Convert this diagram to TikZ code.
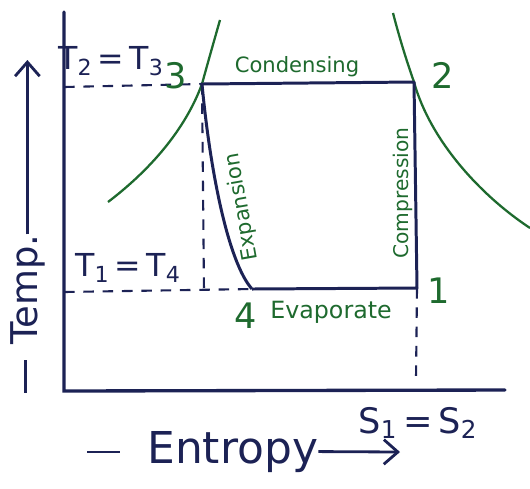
\documentclass[tikz,border=0pt]{standalone}
\usepackage{fontspec}
\setmainfont{DejaVu Sans}
\usetikzlibrary{arrows.meta}

\definecolor{ink}{HTML}{1C2255}
\definecolor{leaf}{HTML}{1E6A2E}

\tikzset{
    axis/.style={ink, line width=1.9pt, line cap=round},
    cycleline/.style={ink, line width=1.7pt, line join=round},
    satline/.style={leaf, line width=1.3pt},
    guide/.style={ink, line width=1.2pt, dash pattern=on 6pt off 5pt},
    pointer/.style={ink, line width=1.6pt, -{Straight Barb[length=8pt,width=14pt]}},
    inklabel/.style={ink, inner sep=0pt, font=\fontsize{18}{20}\selectfont},
    leaflabel/.style={leaf, inner sep=0pt, font=\fontsize{12}{14}\selectfont},
    statenum/.style={leaf, inner sep=0pt, font=\fontsize{20}{22}\selectfont},
    axislabel/.style={ink, inner sep=0pt, font=\fontsize{25}{27}\selectfont}
}

\begin{document}
\begin{tikzpicture}[x=0.02cm, y=-0.02cm]

\useasboundingbox (0,0) rectangle (530,488);

% Axes
\coordinate (top) at (64,12);
\coordinate (origin) at (64,391);
\coordinate (xend) at (505,390);
\draw[axis] (top) -- (origin) -- (xend);

% Points of the cycle
\coordinate (p1) at (417,288);
\coordinate (p2) at (414,82);
\coordinate (p3) at (202,84);
\coordinate (p4) at (252,289);

% Saturation curves
\draw[satline] (108,202) .. controls (150,170) and (185,130) .. (p3)
    .. controls (208,62) and (214,41) .. (220,20);
\draw[satline] (393,13) .. controls (400,40) and (407,62) .. (p2)
    .. controls (430,140) and (480,195) .. (530,228);

% Cycle
\draw[cycleline] (p4) -- (p1) -- (p2) -- (p3)
    .. controls (210,170) and (228,262) .. (p4);

% Guide lines
\coordinate (t23) at (64,87);
\coordinate (t14) at (64,292);
\coordinate (s3) at (204,292);
\coordinate (s12) at (416,378);
\draw[guide] (t23) -- (p3);
\draw[guide] (p3) -- (s3);
\draw[guide] (t14) -- (p4);
\draw[guide] (p1) -- (s12);

% Numbers of the states
\foreach \n/\x/\y in {1/439/291, 2/443/75, 3/176/76, 4/246/316}
{
    \node[statenum] (n\n) at (\x,\y) {\n};
}

% Processes
\node[leaflabel] (condensing) at (297,67) {Condensing};
\node[leaflabel, font=\fontsize{13.5}{15}\selectfont] (evaporate) at (331,312) {Evaporate};
\node[leaflabel, font=\fontsize{11.5}{13}\selectfont, rotate=90] (compression) at (403,193) {Compression};
\node[leaflabel, rotate=100] (expansion) at (242,207) {Expansion};

% Equal values
\node[inklabel] (t23lbl) at (111,61) {T\textsubscript{2}\,=\,T\textsubscript{3}};
\node[inklabel] (t14lbl) at (128,268) {T\textsubscript{1}\,=\,T\textsubscript{4}};
\node[inklabel, font=\fontsize{20}{22}\selectfont] (s12lbl) at (418,423) {S\textsubscript{1}\,=\,S\textsubscript{2}};

% Axis names
\node[axislabel, anchor=base west] (entropy) at (87,463)
{\rule[0.22em]{0.66cm}{1.6pt}\hspace{0.54cm}Entropy};
\coordinate (sarrow) at (400,452);
\draw[pointer] (entropy.east) -- (sarrow);

\node[axislabel, font=\fontsize{21}{23}\selectfont, rotate=90, anchor=base west] (temp) at (37,393)
{\rule[0.28em]{0.66cm}{1.6pt}\hspace{0.3cm}Temp.};
\coordinate (tarrow) at (30,60);
\draw[pointer] (temp.east) -- (temp.east |- tarrow);

\end{tikzpicture}
\end{document}
